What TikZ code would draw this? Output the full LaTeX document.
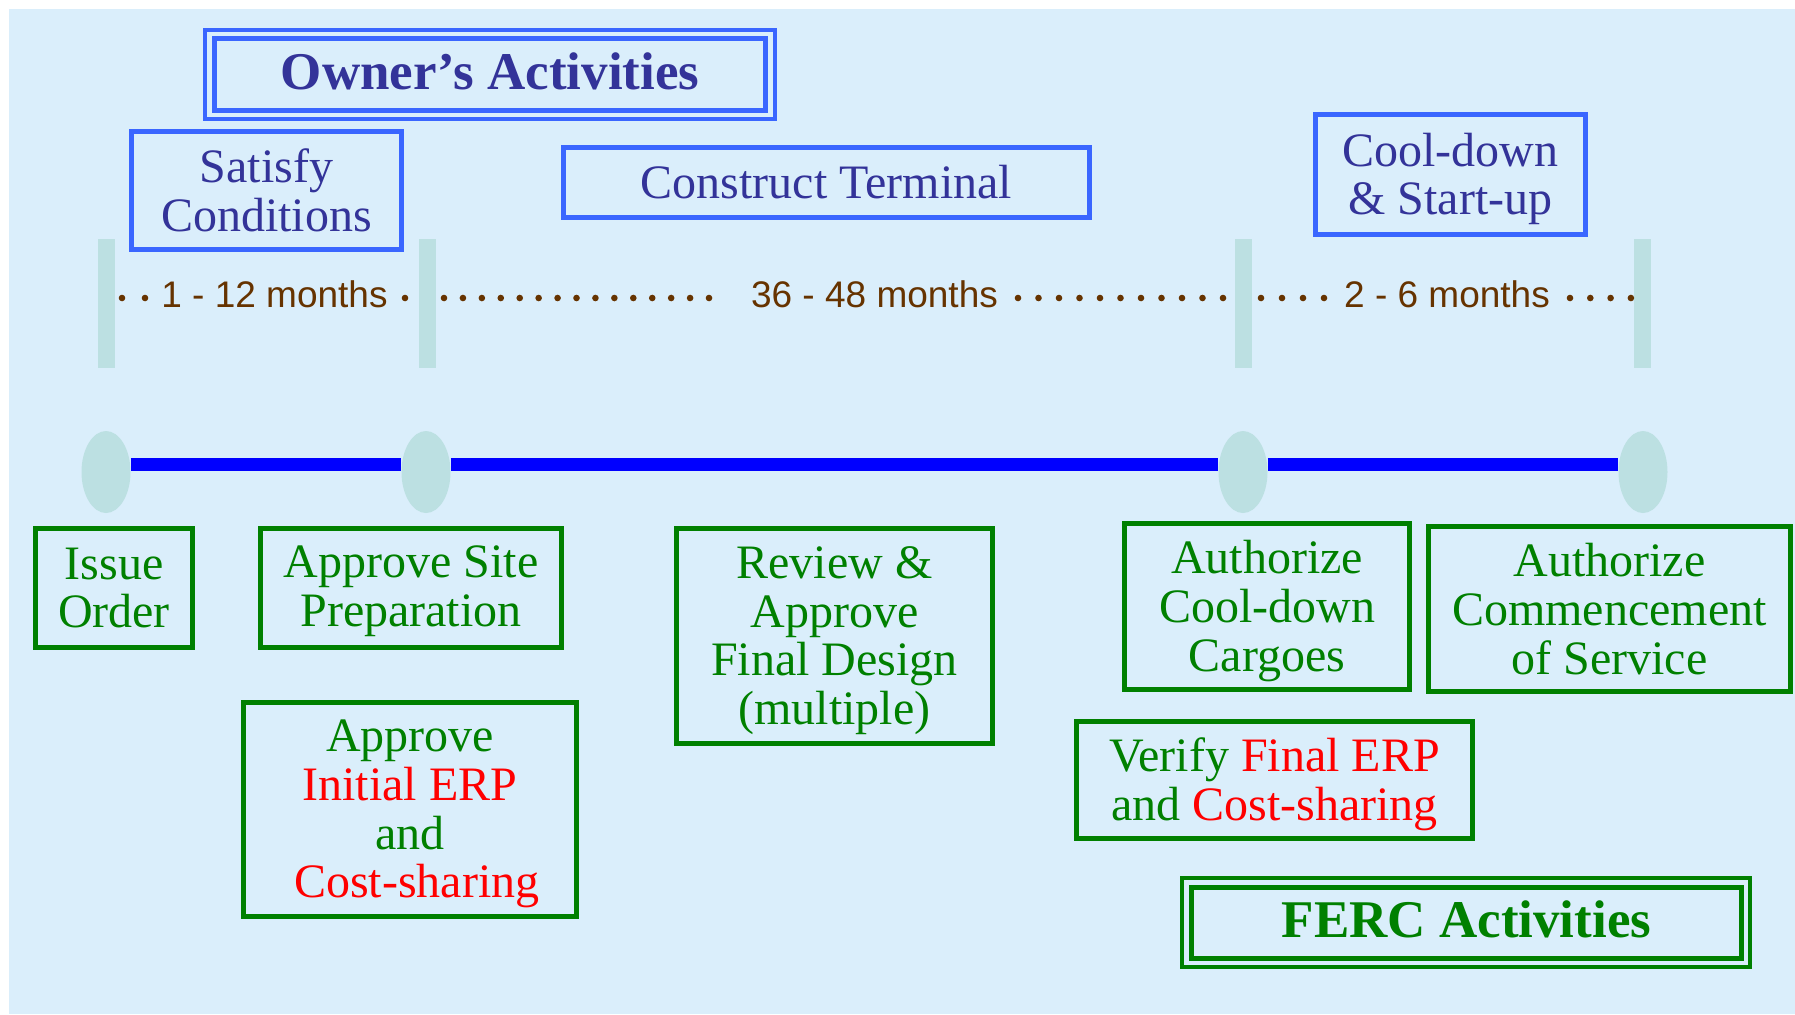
\documentclass[tikz,border=0pt]{standalone}
\usepackage{fontspec}
\setmainfont{Liberation Serif}
\newfontfamily\durfont{Liberation Sans}
\usetikzlibrary{shapes.geometric}
\definecolor{bgc}{HTML}{DAEEFB}
\definecolor{boxblue}{HTML}{3A66FF}
\definecolor{navy}{HTML}{333399}
\definecolor{fgreen}{HTML}{008000}
\definecolor{fred}{HTML}{FF0000}
\definecolor{durbrown}{HTML}{663300}
\definecolor{barc}{HTML}{BCE0E2}
\definecolor{lineblue}{HTML}{0000FF}
\begin{document}
\begin{tikzpicture}[x=0.5pt,y=-0.5pt,
  bbox/.style={draw=boxblue, line width=2.5pt, inner sep=0pt},
  gbox/.style={draw=fgreen, line width=2.5pt, inner sep=0pt},
  btext/.style={inner sep=0pt, align=center, text=navy, font=\fontsize{24}{24.3}\selectfont},
  gtext/.style={inner sep=0pt, align=center, text=fgreen, font=\fontsize{24}{24.3}\selectfont},
  titleb/.style={inner sep=0pt, text=navy, font=\bfseries\fontsize{26.5}{28}\selectfont},
  titleg/.style={inner sep=0pt, text=fgreen, font=\bfseries\fontsize{26.5}{28}\selectfont},
  dur/.style={text=durbrown, font=\durfont\fontsize{18.5}{20}\selectfont, anchor=base, inner sep=0pt},
  tbar/.style={fill=barc, minimum width=8.5pt, minimum height=64.5pt, inner sep=0pt},
  mile/.style={ellipse, fill=barc, minimum width=24.5pt, minimum height=41pt, inner sep=0pt},
  tline/.style={draw=lineblue, line width=6.5pt},
  tdot/.style={fill=durbrown}
]
\useasboundingbox (0,0) rectangle (1795,1014);
\fill[bgc] (9,9) rectangle (1795,1014);

% Owner's activities
\node[draw=boxblue, line width=2pt, minimum width=284.8pt, minimum height=44.2pt, inner sep=0pt] (ownerOuter) at (490.2,74.5) {};
\node[draw=boxblue, line width=2.5pt, minimum width=275.3pt, minimum height=36.2pt, inner sep=0pt] (ownerInner) at (490.2,74.5) {};
\node[titleb] (owner) at ([yshift=1.7pt]ownerInner.center) {Owner’s Activities};

% Blue boxes
\node[bbox, minimum width=135pt, minimum height=59pt] (satisfy) at (266.5,190.5) {};
\node[btext] (satisfy-t) at (satisfy.center) {Satisfy\\Conditions};
\node[bbox, minimum width=263pt, minimum height=35pt] (construct) at (826.5,182.5) {};
\node[btext] (construct-t) at (construct.center) {Construct Terminal};
\node[bbox, minimum width=135pt, minimum height=60pt] (cool) at (1450.5,174.5) {};
\node[btext] (cool-t) at ([yshift=-2.3pt]cool.center) {Cool-down\\\& Start-up};

% bars
\node[tbar] (bar1) at (106,303.5) {};
\node[tbar] (bar2) at (427,303.5) {};
\node[tbar] (bar3) at (1243,303.5) {};
\node[tbar] (bar4) at (1642,303.5) {};

% durations
\node[dur] (d1) at (274.5,307) {1 - 12 months};
\node[dur] (d2) at (874.5,307) {36 - 48 months};
\node[dur] (d3) at (1447,307) {2 - 6 months};
\foreach \x in {122,145,405} {\fill[tdot] (\x,298) circle[radius=1.65pt];}
\foreach \i in {0,...,14} {\fill[tdot] ({444+\i*18.93},298) circle[radius=1.65pt];}
\foreach \i in {0,...,10} {\fill[tdot] ({1018+\i*20.5},298) circle[radius=1.65pt];}
\foreach \i in {0,...,3} {\fill[tdot] ({1261+\i*21},298) circle[radius=1.65pt];}
\foreach \i in {0,...,3} {\fill[tdot] ({1570+\i*20.3},298) circle[radius=1.65pt];}

% milestones
\node[mile] (m1) at (106,472) {};
\node[mile] (m2) at (426,472) {};
\node[mile] (m3) at (1243,472) {};
\node[mile] (m4) at (1643,472) {};
\draw[tline] ([yshift=4pt]m1.east) -- ([yshift=4pt]m2.west);
\draw[tline] ([yshift=4pt]m2.east) -- ([yshift=4pt]m3.west);
\draw[tline] ([yshift=4pt]m3.east) -- ([yshift=4pt]m4.west);

% green boxes
\node[gbox, minimum width=78.5pt, minimum height=59.5pt] (issue) at (114,588) {};
\node[gtext] (issue-t) at (issue.center) {Issue\\Order};
\node[gbox, minimum width=150.5pt, minimum height=59.5pt] (site) at (411,588) {};
\node[gtext] (site-t) at ([yshift=-1.7pt]site.center) {Approve Site\\Preparation};
\node[gbox, minimum width=166.5pt, minimum height=107pt] (erp) at (410,809.5) {};
\node[gtext] (erp-t) at ([yshift=-2.3pt]erp.center) {Approve\\\textcolor{fred}{Initial ERP}\\and\\\hspace*{6.9pt}\textcolor{fred}{Cost-sharing}};
\node[gbox, minimum width=158pt, minimum height=107.5pt] (review) at (834.5,636) {};
\node[gtext] (review-t) at ([yshift=-2.3pt]review.center) {Review \&\\Approve\\Final Design\\(multiple)};
\node[gbox, minimum width=142.5pt, minimum height=83pt] (authcool) at (1267,606.5) {};
\node[gtext] (authcool-t) at ([yshift=-2.3pt]authcool.center) {Authorize\\Cool-down\\Cargoes};
\node[gbox, minimum width=181pt, minimum height=82.5pt] (authcomm) at (1609.5,609) {};
\node[gtext] (authcomm-t) at (authcomm.center) {Authorize\\Commencement\\of Service};
\node[gbox, minimum width=198pt, minimum height=58.5pt] (verify) at (1274.5,780) {};
\node[gtext] (verify-t) at ([yshift=-2pt]verify.center) {Verify \textcolor{fred}{Final ERP}\\and \textcolor{fred}{Cost-sharing}};

% FERC
\node[draw=fgreen, line width=2pt, minimum width=283.9pt, minimum height=44.6pt, inner sep=0pt] (fercOuter) at (1466.1,922.6) {};
\node[draw=fgreen, line width=2.5pt, minimum width=275pt, minimum height=35.6pt, inner sep=0pt] (fercInner) at (1466.5,922.6) {};
\node[titleg] (ferc) at ([yshift=1.7pt]fercInner.center) {FERC Activities};
\end{tikzpicture}
\end{document}
